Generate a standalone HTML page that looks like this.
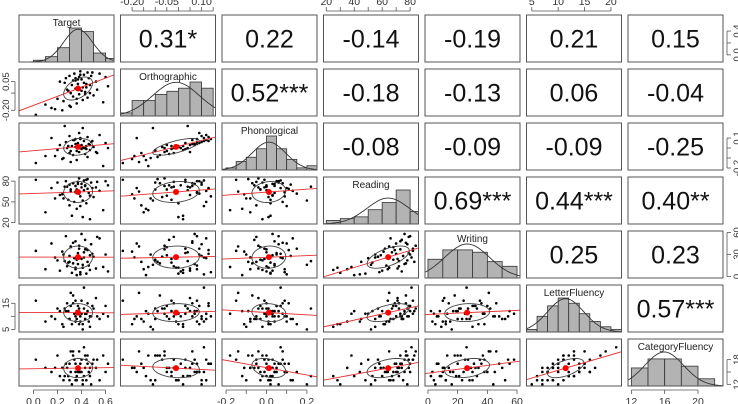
<!DOCTYPE html>
<html><head><meta charset="utf-8"><style>
body{margin:0;background:#fff}
svg{display:block;font-family:"Liberation Sans",sans-serif}
</style></head><body>
<svg id="c" width="738" height="404"></svg>
<script>
const varNames=["Target","Orthographic","Phonological","Reading","Writing","LetterFluency","CategoryFluency"];
const corrLabels=[["","0.31*","0.22","-0.14","-0.19","0.21","0.15"],["","","0.52***","-0.18","-0.13","0.06","-0.04"],["","","","-0.08","-0.09","-0.09","-0.25"],["","","","","0.69***","0.44***","0.40**"],["","","","","","0.25","0.23"],["","","","","","","0.57***"]];
const target=[0.02,0.10,0.15,0.20,0.22,0.25,0.27,0.28,0.30,0.30,0.31,0.32,0.33,0.34,0.35,0.35,0.36,0.37,0.38,0.38,0.39,0.40,0.40,0.41,0.42,0.42,0.43,0.44,0.45,0.45,0.46,0.47,0.48,0.50,0.52,0.55,0.58,0.60,0.62,0.24,0.29,0.33,0.36,0.39,0.44,0.47,0.26,0.31,0.37,0.41,0.49,0.53,0.18,0.35,0.43];
const ortho=[-0.24,-0.15,-0.18,-0.10,0.05,-0.12,0.08,-0.02,-0.16,0.10,-0.05,0.02,-0.08,0.12,-0.01,0.06,-0.14,0.03,0.09,-0.06,0.14,-0.03,0.07,-0.11,0.04,0.11,-0.04,0.00,0.13,-0.09,0.08,0.02,0.10,-0.07,0.05,0.12,-0.13,0.09,0.01,-0.20,-0.03,0.06,-0.10,0.11,0.03,-0.05,0.04,-0.17,0.07,0.00,0.13,-0.02,-0.19,0.08,-0.06];
const phono=[-0.15,-0.08,0.10,-0.02,0.03,-0.10,0.06,0.00,-0.05,0.12,-0.03,0.02,-0.07,0.08,0.01,0.04,-0.12,0.05,0.15,-0.04,0.09,-0.01,0.03,0.20,0.00,0.07,-0.06,0.02,0.11,-0.09,0.04,-0.02,0.06,0.01,-0.04,0.13,-0.18,0.05,0.00,-0.11,0.02,0.08,-0.03,0.10,-0.01,0.03,0.22,-0.14,0.04,0.01,0.07,-0.05,-0.08,0.09,0.00];
const reading=[82,35,70,78,60,55,80,72,45,75,68,30,77,50,65,73,40,79,62,84,58,71,76,52,67,81,74,48,69,83,63,25,78,57,71,66,38,80,74,61,53,77,68,44,82,59,72,65,76,28,70,79,55,64,73];
const writing=[35,10,45,22,8,30,55,14,20,28,40,5,18,25,12,48,2,32,38,42,6,24,58,16,33,26,50,4,36,20,15,9,44,27,11,52,13,30,7,34,19,46,23,3,38,29,21,41,17,12,31,54,26,10,37];
const letterFl=[16,8,10,13,12,6,12,15,9,9,14,7,18,11,8,10,12,14,7,13,10,16,11,5,13,21,9,11,15,12,8,6,10,13,17,9,11,14,10,7,12,15,9,8,11,10,13,19,12,7,14,10,9,16,11];
const categoryFl=[18,16,15,19,14,13,17,16,17,13,15,12,19,18,13,17,14,16,15,20,17,15,18,12,14,21,16,13,17,19,15,14,12,18,16,13,19,15,17,16,14,20,13,15,18,16,14,20,15,13,17,18,16,15,19];
const domains=[[-0.12,0.67],[-0.25,0.16],[-0.22,0.25],[18,86],[-2,62],[4,22],[11.6,23]];
const binStarts=[0,-0.25,-0.2,20,0,4,12];
const binWidths=[0.1,0.05,0.05,10,10,2,2];
const topTicks={1:[-0.20,-0.15,-0.10,-0.05,0.00,0.05,0.10,0.15],3:[20,30,40,50,60,70,80],5:[5,10,15,20]};
const topLabels={1:["-0.20","-0.05","0.10"],3:["20","40","60","80"],5:["5","10","15","20"]};
const topLabelVals={1:[-0.20,-0.05,0.10],3:[20,40,60,80],5:[5,10,15,20]};
const botTicks={0:[0.0,0.2,0.4,0.6],2:[-0.2,-0.1,0.0,0.1,0.2],4:[0,20,40,60],6:[12,16,20]};
const botLabels={0:["0.0","0.2","0.4","0.6"],2:["-0.2","0.0","0.2"],4:["0","20","40","60"],6:["12","16","20"]};
const botLabelVals={0:[0,0.2,0.4,0.6],2:[-0.2,0,0.2],4:[0,20,40,60],6:[12,16,20]};
const leftTicks={1:[-0.20,-0.05,0.05],3:[20,50,80],5:[5,10,15]};
const leftLabels={1:["-0.20","","0.05"],3:["20","50","80"],5:["5","","15"]};
const rightTicks={0:[0.0,0.2,0.4],2:[-0.2,-0.1,0.0,0.1],4:[0,30,60],6:[12,15,18]};
const rightLabels={0:["0.0","","0.4"],2:["-0.2","","","0.1"],4:["0","30","60"],6:["12","","18"]};
const data=[target,ortho,phono,reading,writing,letterFl,categoryFl];

const svg=document.getElementById('c');const NS="http://www.w3.org/2000/svg";
function mk(t,a,p){const e=document.createElementNS(NS,t);for(const k in a)e.setAttribute(k,a[k]);(p||svg).appendChild(e);return e;}
const PX0=19,PPITCH=101.5,PW=95,PY0=15,PYP=54,PH=47;
function px(i){return PX0+i*PPITCH;}function py(j){return PY0+j*PYP;}
function sx(i,v){const d=domains[i];return px(i)+(v-d[0])/(d[1]-d[0])*PW;}
function sy(j,v){const d=domains[j];return py(j)+PH-(v-d[0])/(d[1]-d[0])*PH;}
function mean(a){return a.reduce((s,v)=>s+v,0)/a.length;}
function sd(a){const m=mean(a);return Math.sqrt(a.reduce((s,v)=>s+(v-m)*(v-m),0)/(a.length-1));}
function cor(a,b){const ma=mean(a),mb=mean(b);let s=0;for(let k=0;k<a.length;k++)s+=(a[k]-ma)*(b[k]-mb);return s/(a.length-1)/sd(a)/sd(b);}
const N=Math.min(...data.map(d=>d.length));

for(let r=0;r<7;r++)for(let c=0;c<7;c++){
  const g=mk('g',{});
  
  
  const cp=mk('clipPath',{id:'cp'+r+'_'+c},g);mk('rect',{x:px(c),y:py(r),width:PW,height:PH},cp);
  const inner=mk('g',{'clip-path':'url(#cp'+r+'_'+c+')'},g);
  if(r===c){
    const d=data[r];const bs=binStarts[r],bw=binWidths[r];
    const counts=[];for(let k=0;k<N;k++){const b=Math.floor((d[k]-bs)/bw+1e-9);counts[b]=(counts[b]||0)+1;}
    const mx=Math.max(...counts.filter(x=>x));const top=py(r)+13,bot=py(r)+PH;
    const m=mean(d.slice(0,N)),s=sd(d.slice(0,N));
    const peak=N*bw/(s*Math.sqrt(2*Math.PI));const scaleMax=Math.max(mx,peak);
    for(let b=0;b<counts.length;b++){if(!counts[b])continue;
      const x0=sx(r,bs+b*bw),x1=sx(r,bs+(b+1)*bw);const h=counts[b]/scaleMax*(bot-top);
      const rc=mk('rect',{x:x0,y:bot-h,width:x1-x0,height:h,fill:'#b3b3b3',stroke:'#333','stroke-width':0.8},inner);
      
      }
    let pts=[];for(let t=0;t<=60;t++){const v=domains[r][0]+(domains[r][1]-domains[r][0])*t/60;const dn=N*bw*Math.exp(-0.5*((v-m)/s)**2)/(s*Math.sqrt(2*Math.PI));pts.push(sx(r,v).toFixed(1)+','+(bot-dn/scaleMax*(bot-top)).toFixed(1));}
    const pl=mk('polyline',{points:pts.join(' '),fill:'none',stroke:'#333','stroke-width':0.9},inner);
    
    
    const t=mk('text',{x:px(c)+PW/2,y:py(r)+11,'text-anchor':'middle','font-size':10,fill:'#222'},g);t.textContent=varNames[r];
    
    
  } else if(c>r){
    const t=mk('text',{x:px(c)+PW/2,y:py(r)+PH/2+9,'text-anchor':'middle','font-size':25,fill:'#111'},g);t.textContent=corrLabels[r][c];
    
    
  } else {
    const X=data[c],Y=data[r];
    for(let k=0;k<N;k++){const p=mk('circle',{cx:sx(c,X[k]),cy:sy(r,Y[k]),r:1.3,fill:'#000'},inner);
      
      }
    const mX=mean(X.slice(0,N)),mY=mean(Y.slice(0,N)),sX=sd(X.slice(0,N)),sY=sd(Y.slice(0,N)),rr=cor(X.slice(0,N),Y.slice(0,N));
    const slope=rr*sY/sX,d=domains[c];
    const ln=mk('line',{x1:sx(c,d[0]),y1:sy(r,mY+slope*(d[0]-mX)),x2:sx(c,d[1]),y2:sy(r,mY+slope*(d[1]-mX)),stroke:'#e83030','stroke-width':0.9},inner);
    
    
    const ep=[];const ph=Math.acos(Math.max(-1,Math.min(1,rr)));
    for(let t=0;t<=60;t++){const a=t/60*2*Math.PI;ep.push(sx(c,mX+sX*Math.cos(a)).toFixed(1)+','+sy(r,mY+sY*Math.cos(a+ph)).toFixed(1));}
    const el=mk('polyline',{points:ep.join(' '),fill:'none',stroke:'#444','stroke-width':0.9},inner);
    
    
    const mp=mk('circle',{cx:sx(c,mX),cy:sy(r,mY),r:3,fill:'#f00'},inner);
    
    
  }
  mk('rect',{x:px(c),y:py(r),width:PW,height:PH,fill:'none',stroke:'#555','stroke-width':1},g);
}
const AX={stroke:'#555','stroke-width':0.8};
function axisTop(c){const t=topTicks[c];const y=py(0)-4;
  mk('line',Object.assign({x1:sx(c,t[0]),x2:sx(c,t[t.length-1]),y1:y,y2:y},AX));
  t.forEach(v=>mk('line',Object.assign({x1:sx(c,v),x2:sx(c,v),y1:y,y2:y-4},AX)));
  topLabelVals[c].forEach((v,k)=>{const e=mk('text',{x:sx(c,v),y:y-6,'text-anchor':'middle','font-size':10.5,fill:'#333'});e.textContent=topLabels[c][k];
    
    });}
function axisBot(c){const t=botTicks[c];const y=py(6)+PH+4;
  mk('line',Object.assign({x1:sx(c,t[0]),x2:sx(c,t[t.length-1]),y1:y,y2:y},AX));
  t.forEach(v=>mk('line',Object.assign({x1:sx(c,v),x2:sx(c,v),y1:y,y2:y+4},AX)));
  botLabelVals[c].forEach((v,k)=>{const e=mk('text',{x:sx(c,v),y:y+15,'text-anchor':'middle','font-size':10.5,fill:'#333'});e.textContent=botLabels[c][k];
    
    });}
function axisLeft(r){const t=leftTicks[r];const x=px(0)-4;
  mk('line',Object.assign({x1:x,x2:x,y1:sy(r,t[0]),y2:sy(r,t[t.length-1])},AX));
  t.forEach((v,k)=>{mk('line',Object.assign({x1:x,x2:x-4,y1:sy(r,v),y2:sy(r,v)},AX));
    const e=mk('text',{x:0,y:0,transform:'translate('+(x-6)+','+sy(r,v)+') rotate(-90)','text-anchor':'middle','font-size':9.5,fill:'#333'});e.textContent=leftLabels[r][k];
    
    });}
function axisRight(r){const t=rightTicks[r];const x=px(6)+PW+4;
  mk('line',Object.assign({x1:x,x2:x,y1:sy(r,t[0]),y2:sy(r,t[t.length-1])},AX));
  t.forEach((v,k)=>{mk('line',Object.assign({x1:x,x2:x+4,y1:sy(r,v),y2:sy(r,v)},AX));
    const e=mk('text',{x:0,y:0,transform:'translate('+(x+13)+','+sy(r,v)+') rotate(-90)','text-anchor':'middle','font-size':9.5,fill:'#333'});e.textContent=rightLabels[r][k];
    
    });}
[1,3,5].forEach(axisTop);[0,2,4,6].forEach(axisBot);[1,3,5].forEach(axisLeft);[0,2,4,6].forEach(axisRight);
</script>
</body></html>
